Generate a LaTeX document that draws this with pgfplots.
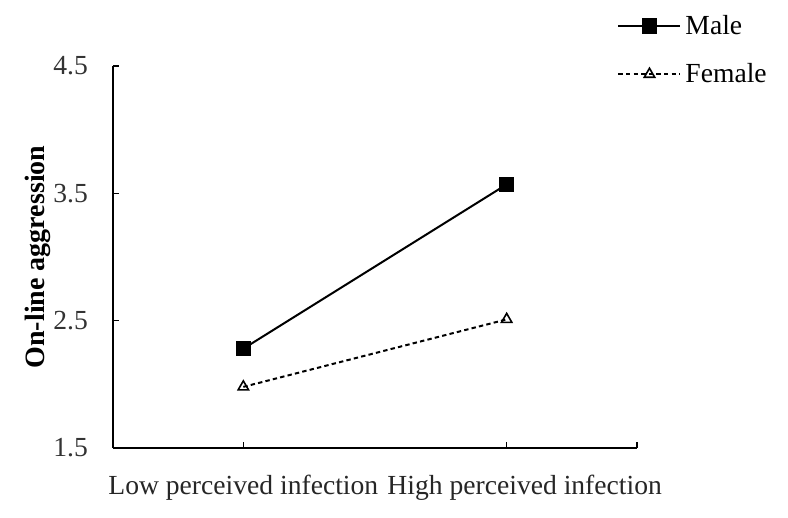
\documentclass[border=0pt]{standalone}
\usepackage{fontspec}
\setmainfont{Liberation Serif}
\usepackage{pgfplots}
\pgfplotsset{compat=1.18}

\begin{document}
\begin{tikzpicture}
\begin{axis}[
    name=ax,
    scale only axis,
    width=262pt,
    height=191pt,
    xmin=-0.495, xmax=1.495,
    ymin=1.5, ymax=4.5,
    axis lines=left,
    axis line style={-, line width=0.8pt},
    xtick={0,1},
    xticklabels={Low perceived infection, \hspace*{18pt}High perceived infection},
    extra x ticks={1.495},
    extra x tick labels={},
    ytick={1.5,2.5,3.5,4.5},
    yticklabels={1.5,2.5,3.5,4.5},
    tick align=inside,
    major tick length=3pt,
    tick style={black, line width=0.8pt},
    font=\fontsize{13.8}{15}\selectfont,
    /pgf/number format/assume math mode=true,
    xticklabel style={text=black!85, yshift=-10pt},
    yticklabel style={text=black!80, xshift=-9pt},
    ylabel={\bfseries On-line aggression},
    ylabel style={at={(axis description cs:-0.143,0.5)}, anchor=center, font=\fontsize{14}{15}\selectfont},
    legend style={at={(0.962,1.145)}, anchor=north west, draw=none, fill=none,
        font=\fontsize{13.8}{15}\selectfont, row sep=9pt, inner sep=0pt},
    legend cell align=left,
    legend image code/.code={
        \draw[#1] (0cm,0cm) -- (31pt,0cm);
        \draw[#1] plot coordinates {(15.5pt,0cm)};
    },
    clip=false,
]
\addplot[black, line width=1pt, mark=square*, mark size=3.4pt, mark options={solid}] coordinates {
(0, 2.28)
(1, 3.57)
};
\addlegendentry{Male}
\addplot[black, line width=1pt, dash pattern=on 2.2pt off 1.6pt, mark=triangle, mark size=3pt, mark options={solid, fill=white, line width=0.8pt}] coordinates {
(0, 1.98)
(1, 2.51)
};
\addlegendentry{Female}
\end{axis}
\path ([shift={(-56.5pt,-35pt)}]ax.south west) rectangle ([shift={(75.5pt,33pt)}]ax.north east);
\end{tikzpicture}
\end{document}
